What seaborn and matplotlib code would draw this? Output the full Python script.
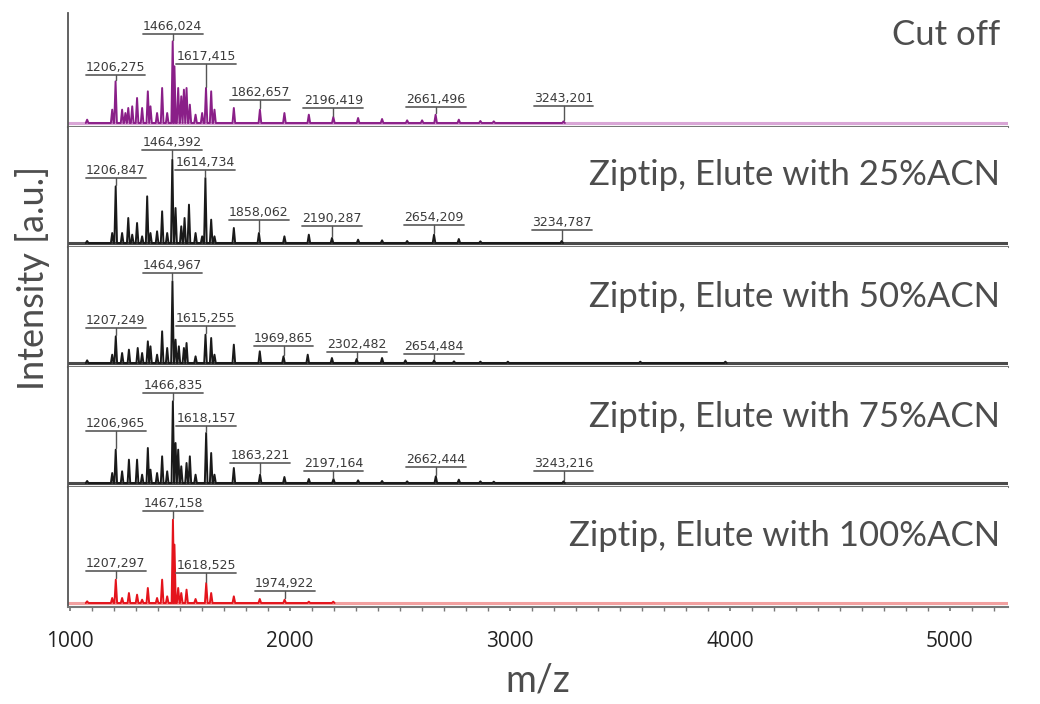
import numpy as np
import pandas as pd
import seaborn as sns
from matplotlib import pyplot as plt
from matplotlib.ticker import MultipleLocator

sns.set_theme(style='white')
plt.rcParams['font.family'] = ['DejaVu Sans']

# panel names
paineis = ['Cut off', 'Ziptip, Elute with 25%ACN', 'Ziptip, Elute with 50%ACN',
           'Ziptip, Elute with 75%ACN', 'Ziptip, Elute with 100%ACN']

# peak lists (m/z, intensity in a.u.)
mz_cut = [1077, 1191, 1206.275, 1236, 1251, 1264, 1282, 1304, 1327, 1353, 1365, 1395, 1418, 1441,
          1466.024, 1474, 1491, 1505, 1517, 1529, 1544, 1570, 1600, 1617.415, 1641, 1656, 1744,
          1862.657, 1974, 2085, 2196.419, 2309, 2418, 2532, 2600, 2661.496, 2767, 2865, 2926, 3243.201]
int_cut = [10, 40, 125, 40, 30, 45, 50, 75, 45, 95, 50, 30, 105, 30,
           245, 170, 105, 80, 100, 105, 55, 25, 30, 105, 95, 40, 45,
           40, 30, 25, 18, 15, 12, 8, 8, 25, 10, 6, 5, 5]
lab_cut = ['1206,275', '1466,024', '1617,415', '1862,657', '2196,419', '2661,496', '3243,201']

mz_25 = [1077, 1191, 1206.847, 1236, 1264, 1282, 1304, 1327, 1350, 1365, 1395, 1418, 1441,
         1464.392, 1479, 1505, 1520, 1540, 1570, 1600, 1614.734, 1641, 1656, 1744, 1858.062,
         1974, 2085, 2190.287, 2309, 2418, 2532, 2654.209, 2767, 2865, 3234.787]
int_25 = [6, 30, 170, 30, 75, 25, 60, 20, 140, 30, 35, 95, 30,
          250, 105, 50, 75, 115, 30, 20, 195, 70, 20, 45, 30,
          20, 25, 15, 10, 8, 6, 25, 12, 5, 6]
lab_25 = ['1206,847', '1464,392', '1614,734', '1858,062', '2190,287', '2654,209', '3234,787']

mz_50 = [1077, 1191, 1207.249, 1236, 1267, 1307, 1327, 1353, 1365, 1395, 1418, 1441,
         1464.967, 1479, 1494, 1517, 1529, 1570, 1615.255, 1641, 1656, 1744, 1862,
         1969.865, 2080, 2190, 2302.482, 2418, 2524, 2654.484, 2745, 2865, 2990, 3592, 3979]
int_50 = [8, 25, 80, 30, 40, 45, 30, 65, 50, 25, 95, 45,
          245, 70, 50, 45, 60, 20, 85, 75, 25, 55, 35,
          20, 25, 15, 12, 15, 8, 8, 5, 4, 4, 4, 4]
lab_50 = ['1207,249', '1464,967', '1615,255', '1969,865', '2302,482', '2654,484']

mz_75 = [1077, 1191, 1206.965, 1236, 1267, 1304, 1327, 1353, 1365, 1395, 1418, 1441,
         1466.835, 1479, 1491, 1505, 1529, 1544, 1570, 1618.157, 1641, 1656, 1744, 1863.221,
         1974, 2085, 2197.164, 2309, 2418, 2532, 2662.444, 2767, 2865, 2926, 3243.216]
int_75 = [6, 30, 100, 35, 70, 70, 25, 105, 40, 30, 80, 35,
          245, 120, 100, 50, 60, 80, 25, 150, 90, 25, 45, 25,
          18, 12, 12, 8, 6, 5, 20, 10, 5, 4, 5]
lab_75 = ['1206,965', '1466,835', '1618,157', '1863,221', '2197,164', '2662,444', '3243,216']

mz_100 = [1077, 1191, 1207.297, 1236, 1267, 1304, 1327, 1353, 1395, 1418, 1441,
          1467.158, 1474, 1491, 1505, 1529, 1570, 1618.525, 1641, 1744, 1862, 1974.922,
          2085, 2196]
int_100 = [5, 15, 70, 15, 30, 25, 10, 45, 15, 70, 20,
           250, 175, 45, 30, 40, 12, 60, 30, 20, 12, 10,
           4, 4]
lab_100 = ['1207,297', '1467,158', '1618,525', '1974,922']

# label heights (underline level) for each panel, same order as the labels
alt_cut = [144, 267, 177, 69, 45, 48, 51]
alt_25 = [195, 280, 220, 70, 50, 55, 40]
alt_50 = [105, 270, 110, 52, 32, 28]
alt_75 = [155, 270, 170, 60, 35, 48, 35]
alt_100 = [95, 275, 90, 35]

dados = [(mz_cut, int_cut, lab_cut, alt_cut), (mz_25, int_25, lab_25, alt_25),
         (mz_50, int_50, lab_50, alt_50), (mz_75, int_75, lab_75, alt_75),
         (mz_100, int_100, lab_100, alt_100)]

cores = ['#8a1f88', '#1a1a1a', '#1a1a1a', '#1a1a1a', '#e4141c']
cores_base = ['#d9a6d6', '#4a4a4a', '#4a4a4a', '#4a4a4a', '#f2a0a0']
pos_texto = [0.77, 0.60, 0.585, 0.585, 0.59]
cor_texto = '#4d4d4d'

fig = plt.figure(figsize=(10.4, 7.04), dpi=100)
W, H = 1040, 704
esq, larg, alt_p = 68 / W, 940 / W, 120 / H
meia = 6  # half width of a peak in m/z

axes = []
for i, (mz, inten, labs, alts) in enumerate(dados):
    base_px = 127 + 120 * i
    ax = fig.add_axes([esq, 1 - base_px / H, larg, alt_p])
    axes.append(ax)

    # triangular profile for each peak
    xs, ys = [], []
    for m, h in sorted(zip(mz, inten)):
        xs += [m - meia, m, m + meia]
        ys += [0, h, 0]
    perfil = pd.DataFrame({'mz': xs, 'intensidade': ys})
    ax.axhline(0, color=cores_base[i], lw=2.2, zorder=1)
    sns.lineplot(data=perfil, x='mz', y='intensidade', ax=ax, color=cores[i],
                 lw=1.4, estimator=None, sort=False, zorder=2)

    # peak labels
    picos = dict(zip(mz, inten))
    for lab, y_ul in zip(labs, alts):
        m = float(lab.replace(',', '.'))
        h = picos[m]
        ax.plot([m - 136, m + 136], [y_ul, y_ul], color='#666666', lw=1.3)
        ax.plot([m, m], [h + 4, y_ul], color='#555555', lw=1.0)
        ax.text(m, y_ul + 3, lab, ha='center', va='bottom', fontsize=9,
                color='#3a3a3a')

    ax.text(0.9915, pos_texto[i], paineis[i], transform=ax.transAxes, ha='right',
            va='center', fontsize=25, color=cor_texto, family='Lato')

    ax.set_xlim(990, 5264)
    ax.set_ylim(-12, 348)
    ax.set_xlabel('')
    ax.set_ylabel('')
    ax.set_yticks([])
    for lado in ['top', 'right']:
        ax.spines[lado].set_visible(False)
    ax.spines['left'].set_color('#555555')
    ax.spines['left'].set_linewidth(1.3)
    ax.spines['bottom'].set_color('#777777')
    ax.spines['bottom'].set_linewidth(1.5)
    if i < 4:
        ax.set_xticks([])
    if i == 0:
        ax.spines['left'].set_bounds(-12, 330)

ax = axes[-1]
ax.set_xticks([1000, 2000, 3000, 4000, 5000])
ax.xaxis.set_minor_locator(MultipleLocator(100))
ax.tick_params(axis='x', which='both', direction='out', length=3, color='#777777',
               labelsize=15, pad=14, labelcolor='#222222', bottom=True)
for t in ax.get_xticklabels():
    t.set_family('Open Sans')
ax.set_xlabel('m/z', fontsize=27, color=cor_texto, family='Lato', labelpad=8)

fig.text(0.031, 0.605, 'Intensity [a.u.]', rotation=90, ha='center', va='center',
         fontsize=26, color=cor_texto, family='Lato')

fig.savefig('out.png', dpi=100)
